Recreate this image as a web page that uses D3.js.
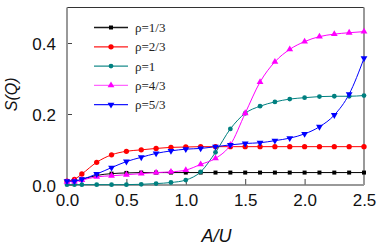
<!DOCTYPE html>
<html>
<head>
<meta charset="utf-8">
<script src="https://cdn.jsdelivr.net/npm/d3@7"></script>
<style>
  html, body { margin: 0; padding: 0; background: #fff; }
  svg { display: block; }
  .tick text { font-family: "Liberation Sans", Arial, sans-serif; }
</style>
</head>
<body>
<svg id="chart" width="381" height="247"></svg>
<script>
// A/U sample points
const xs = [0, 0.0625, 0.125, 0.25, 0.375, 0.5, 0.625, 0.75, 0.875, 1.0, 1.125, 1.25,
            1.375, 1.5, 1.625, 1.75, 1.875, 2.0, 2.125, 2.25, 2.375, 2.5];

const rho13 = [0.011, 0.011, 0.016, 0.027, 0.032, 0.034, 0.035, 0.035, 0.035, 0.035, 0.035, 0.035,
               0.035, 0.035, 0.035, 0.035, 0.035, 0.035, 0.035, 0.035, 0.035, 0.035];
const rho23 = [0.011, 0.016, 0.031, 0.064, 0.085, 0.095, 0.099, 0.103, 0.106, 0.107, 0.108, 0.108,
               0.108, 0.108, 0.108, 0.108, 0.108, 0.108, 0.108, 0.108, 0.108, 0.108];
const rho1  = [0.001, 0.001, 0.001, 0.001, 0.001, 0.001, 0.002, 0.004, 0.007, 0.014, 0.037, 0.092,
               0.158, 0.202, 0.222, 0.234, 0.242, 0.246, 0.249, 0.250, 0.250, 0.252];
const rho43 = [0.009, 0.010, 0.014, 0.023, 0.026, 0.029, 0.032, 0.035, 0.037, 0.042, 0.058, 0.075,
               0.113, 0.202, 0.290, 0.347, 0.382, 0.404, 0.418, 0.425, 0.429, 0.432];
const rho53 = [0.011, 0.011, 0.016, 0.031, 0.049, 0.066, 0.078, 0.089, 0.096, 0.101, 0.103, 0.108,
               0.113, 0.117, 0.119, 0.125, 0.132, 0.144, 0.164, 0.197, 0.256, 0.357];

const seriesNames = ["ρ=1/3", "ρ=2/3", "ρ=1", "ρ=4/3", "ρ=5/3"];
const seriesValues = [rho13, rho23, rho1, rho43, rho53];

const xTicks = [0, 0.5, 1.0, 1.5, 2.0, 2.5];
const yTicks = [0, 0.2, 0.4];

const colors = ["#000000", "#ff0000", "#008080", "#ff00ff", "#0000ff"];
const symbols = [d3.symbolSquare, d3.symbolCircle, d3.symbolCircle, d3.symbolTriangle, d3.symbolTriangle];
const symSizes = [16, 22, 18, 20, 20];
const symRotate = [0, 0, 0, 0, 180];

const margin = {top: 7.5, right: 17, bottom: 62, left: 67},
      width = 381 - margin.left - margin.right,
      height = 247 - margin.top - margin.bottom;

const svg = d3.select("#chart");
const g = svg.append("g").attr("transform", `translate(${margin.left},${margin.top})`);

const x = d3.scaleLinear().domain([0, 2.5]).range([0, width]);
const y = d3.scaleLinear().domain([0, 0.5]).range([height, 0]);

// axes, ticks inward
const xAxis = g.append("g")
    .attr("transform", `translate(0,${height})`)
    .call(d3.axisBottom(x).tickValues(xTicks).tickFormat(d3.format(".1f")).tickSizeInner(-6).tickSizeOuter(0).tickPadding(9));
const yAxis = g.append("g")
    .call(d3.axisLeft(y).tickValues(yTicks).tickFormat(d3.format(".1f")).tickSizeInner(-5).tickSizeOuter(0).tickPadding(11));

[xAxis, yAxis].forEach(a => {
    a.select(".domain").remove();
    a.selectAll(".tick line").attr("stroke", "#444");
    a.selectAll(".tick text").attr("font-size", 17).attr("fill", "#111");
});
xAxis.selectAll(".tick text").attr("dy", "0.71em");
yAxis.selectAll(".tick text").attr("dy", "0.36em");

// frame
g.append("line").attr("x1", 0).attr("x2", width).attr("y1", 0).attr("y2", 0)
    .attr("stroke", "#333").attr("stroke-width", 1);
g.append("line").attr("x1", 0).attr("x2", width).attr("y1", height).attr("y2", height)
    .attr("stroke", "#777").attr("stroke-width", 1.5);
g.append("line").attr("x1", 0).attr("x2", 0).attr("y1", 0).attr("y2", height)
    .attr("stroke", "#999").attr("stroke-width", 2);
g.append("line").attr("x1", width).attr("x2", width).attr("y1", 0).attr("y2", height)
    .attr("stroke", "#999").attr("stroke-width", 2);

const line = d3.line()
    .x(d => x(d[0]))
    .y(d => y(d[1]))
    .curve(d3.curveMonotoneX);

seriesValues.forEach((vals, i) => {
    const pts = xs.map((xv, j) => [xv, vals[j]]);
    g.append("path")
        .datum(pts)
        .attr("fill", "none")
        .attr("stroke", colors[i])
        .attr("stroke-width", 1)
        .attr("d", line);
    g.selectAll(".pt" + i)
        .data(pts)
        .enter()
        .append("path")
        .attr("class", "pt" + i)
        .attr("d", d3.symbol().type(symbols[i]).size(symSizes[i]))
        .attr("transform", d => `translate(${x(d[0])},${y(d[1])}) rotate(${symRotate[i]})`)
        .attr("fill", colors[i]);
});

// legend
const legend = svg.append("g").attr("transform", "translate(94,27.5)");
seriesNames.forEach((name, i) => {
    const row = legend.append("g").attr("transform", `translate(0,${i * 19.3})`);
    row.append("line")
        .attr("x1", 0).attr("x2", 34).attr("y1", 0).attr("y2", 0)
        .attr("stroke", colors[i]).attr("stroke-width", 1.3)
        .attr("stroke-opacity", i === 3 ? 0.6 : 0.9);
    row.append("path")
        .attr("d", d3.symbol().type(symbols[i]).size(symSizes[i]))
        .attr("transform", `translate(17,0) rotate(${symRotate[i]})`)
        .attr("fill", colors[i]);
    row.append("text")
        .attr("x", 41)
        .attr("y", 0)
        .attr("dy", "0.35em")
        .attr("font-family", "'Liberation Serif', 'Times New Roman', serif")
        .attr("font-size", 13)
        .attr("fill", "#222")
        .text(name);
});

// axis titles
svg.append("text")
    .attr("x", margin.left + width / 2 + 1)
    .attr("y", 242)
    .attr("text-anchor", "middle")
    .attr("font-family", "'Liberation Sans', Arial, sans-serif")
    .attr("font-style", "italic")
    .attr("font-size", 18)
    .attr("fill", "#111")
    .text("A/U");
svg.append("text")
    .attr("transform", `translate(17,${margin.top + height / 2 - 2}) rotate(-90)`)
    .attr("text-anchor", "middle")
    .attr("font-family", "'Liberation Sans', Arial, sans-serif")
    .attr("font-style", "italic")
    .attr("font-size", 16)
    .attr("fill", "#111")
    .text("S(Q)");
</script>
</body>
</html>
